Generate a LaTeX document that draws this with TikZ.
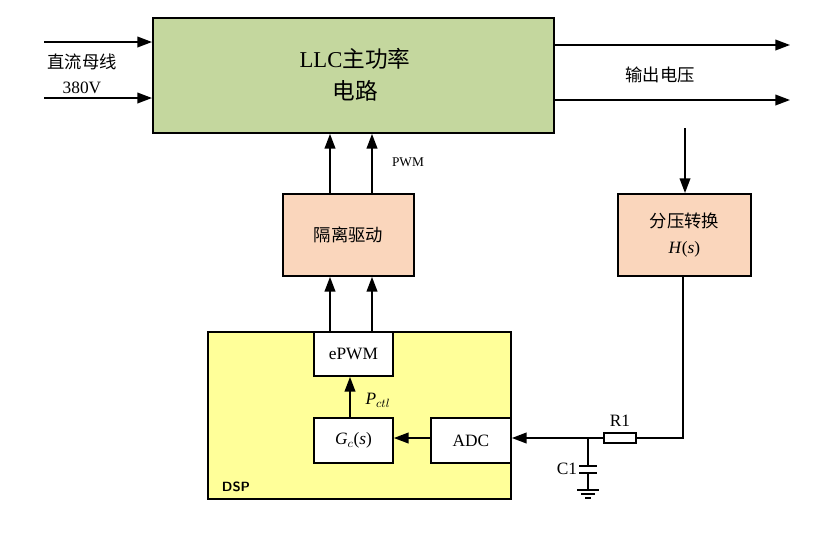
\documentclass[tikz,border=0pt]{standalone}
\usepackage{fontspec}
\setmainfont{Liberation Serif}
\newfontfamily\cjk{Noto Sans CJK SC}
\usetikzlibrary{arrows.meta}
\definecolor{llcgreen}{RGB}{196,215,158}
\definecolor{peach}{RGB}{250,214,188}
\definecolor{dspyellow}{RGB}{255,255,153}
\tikzset{
  blk/.style={draw=black, line width=1.4pt, anchor=north west, inner sep=0pt},
  arr/.style={-{Triangle[length=11pt,width=8pt]}, line width=1.2pt},
  wire/.style={line width=1.2pt},
  txt/.style={font=\fontsize{13}{16}\selectfont},
  ctxt/.style={font=\fontsize{13}{16}\selectfont\cjk}
}
\begin{document}
\begin{tikzpicture}[x=0.75pt,y=-0.75pt]
\useasboundingbox (0,0) rectangle (816,540);
% blocks
\node[blk, fill=llcgreen, minimum width=401*0.75pt, minimum height=115*0.75pt] (llc) at (152,17) {};
\node[font=\fontsize{17}{24}\selectfont\cjk, align=center] at (355,75) {\fontspec{Liberation Serif}LLC{\cjk 主功率}\\电路};
\node[blk, fill=peach, minimum width=131*0.75pt, minimum height=82*0.75pt] (drv) at (282,193) {};
\node[ctxt] at (drv.center) {隔离驱动};
\node[blk, fill=peach, minimum width=133*0.75pt, minimum height=82*0.75pt] (div) at (617,193) {};
\node[txt, align=center] at (div.center) {{\cjk 分压转换}\\[3pt]\textit{H}(\textit{s})};
\node[blk, fill=dspyellow, minimum width=303*0.75pt, minimum height=167*0.75pt] (dsp) at (207,331) {};
\node[font=\bfseries\sffamily] at (236,487) {DSP};
\node[blk, fill=white, minimum width=79*0.75pt, minimum height=44*0.75pt] (epwm) at (313,331) {};
\node[txt] at (epwm.center) {ePWM};
\node[blk, fill=white, minimum width=79*0.75pt, minimum height=45*0.75pt] (gc) at (313,417) {};
\node[txt] at (gc.center) {\textit{G}$_c$(\textit{s})};
\node[blk, fill=white, minimum width=80*0.75pt, minimum height=45*0.75pt] (adc) at (430,417) {};
\node[txt] at (adc.center) {ADC};
% inputs and outputs
\coordinate (in1) at (44,42);
\coordinate (in2) at (44,98);
\coordinate (out1) at (790,45);
\coordinate (out2) at (790,100);
\draw[arr] (in1) -- (llc.west |- in1);
\draw[arr] (in2) -- (llc.west |- in2);
\draw[arr] (llc.east |- out1) -- (out1);
\draw[arr] (llc.east |- out2) -- (out2);
\node[ctxt] at (82,62) {直流母线};
\node[txt] at (82,88) {380V};
\node[ctxt] at (660,75) {输出电压};
% drive signals
\foreach \x in {330,372} {
  \draw[arr] (\x,193) -- (llc.south -| \x,0);
  \draw[arr] (\x,331) -- (drv.south -| \x,0);
}
\node at (408,162) {PWM};
\coordinate (sense) at (685,128);
\draw[arr] (sense) -- (div.north -| sense);
\draw[arr] (gc.north -| 350,0) -- (epwm.south -| 350,0);
\node[txt] at (378,400) {\textit{P}$_{ctl}$};
\draw[arr] (adc.west |- 0,438) -- (gc.east |- 0,438);
% feedback filter
\node[draw, line width=1.2pt, minimum width=32*0.75pt, minimum height=10*0.75pt, inner sep=0pt] (r1) at (620,438) {};
\node[txt] at (620,421) {R1};
\coordinate (jn) at (588,438);
\draw[wire] (683,275) -- (683,438) -- (r1.east);
\draw[arr] (r1.west) -- (jn) -- (adc.east |- jn);
\draw[wire] (jn) -- (588,466) (579,466) -- (597,466) (579,473) -- (597,473) (588,473) -- (588,490)
  (577,490) -- (599,490) (581,494) -- (595,494) (585,498) -- (591,498);
\node[txt] at (567,469) {C1};
\end{tikzpicture}
\end{document}
